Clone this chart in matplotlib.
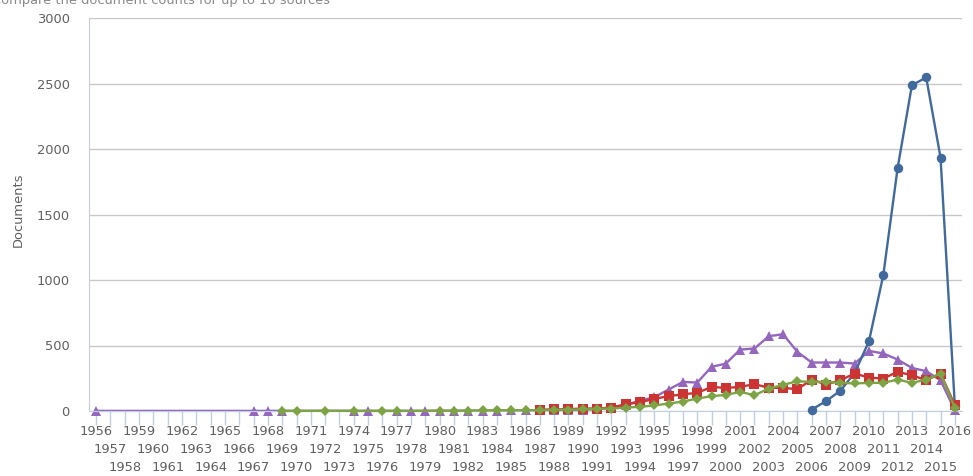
import matplotlib
matplotlib.use("Agg")
import matplotlib.pyplot as plt
from matplotlib.transforms import blended_transform_factory

plt.rcParams['font.family'] = ['DejaVu Sans']

years = list(range(1956, 2017))

# values per year (None = no point for that year)
blue_vals = {2006: 11, 2007: 75, 2008: 155, 2009: 290, 2010: 533, 2011: 1037,
             2012: 1853, 2013: 2487, 2014: 2546, 2015: 1935, 2016: 40}

red_vals = {1987: 10, 1988: 12, 1989: 14, 1990: 19, 1991: 19, 1992: 26, 1993: 52,
            1994: 67, 1995: 93, 1996: 113, 1997: 128, 1998: 138, 1999: 184,
            2000: 176, 2001: 184, 2002: 205, 2003: 177, 2004: 177, 2005: 166,
            2006: 240, 2007: 202, 2008: 235, 2009: 286, 2010: 255, 2011: 248,
            2012: 299, 2013: 273, 2014: 235, 2015: 286, 2016: 45}

green_vals = {1969: 1, 1970: 1, 1972: 2, 1974: 1, 1976: 1, 1977: 1, 1980: 2,
              1981: 2, 1982: 3, 1983: 4, 1984: 5, 1985: 5, 1986: 6, 1987: 7,
              1988: 9, 1989: 11, 1990: 12, 1991: 16, 1992: 19, 1993: 26,
              1994: 32, 1995: 42, 1996: 57, 1997: 72, 1998: 95, 1999: 113,
              2000: 123, 2001: 146, 2002: 121, 2003: 171, 2004: 200, 2005: 227,
              2006: 222, 2007: 222, 2008: 215, 2009: 210, 2010: 215, 2011: 215,
              2012: 240, 2013: 215, 2014: 240, 2015: 286, 2016: 25}

purple_vals = {1956: 1, 1967: 1, 1968: 1, 1969: 1, 1974: 1, 1975: 1, 1977: 1,
               1978: 1, 1979: 1, 1980: 2, 1981: 2, 1982: 2, 1983: 3, 1984: 3,
               1985: 4, 1986: 4, 1987: 5, 1988: 6, 1989: 8, 1990: 10, 1991: 15,
               1992: 25, 1993: 45, 1994: 80, 1995: 105, 1996: 164, 1997: 222,
               1998: 217, 1999: 337, 2000: 362, 2001: 469, 2002: 477, 2003: 571,
               2004: 586, 2005: 451, 2006: 370, 2007: 370, 2008: 370, 2009: 362,
               2010: 459, 2011: 439, 2012: 393, 2013: 329, 2014: 304, 2015: 235,
               2016: 5}

y_ticks = [0, 500, 1000, 1500, 2000, 2500, 3000]
y_label = "Documents"
title_text = "Compare the document counts for up to 10 sources"

W, H = 973, 476
fig = plt.figure(figsize=(W / 100, H / 100), dpi=100)
L, R, B, T = 89, 962, 411, 18
ax = fig.add_axes([L / W, 1 - B / H, (R - L) / W, (B - T) / H])

ax.set_xlim(-0.5, len(years) - 0.5)
ax.set_ylim(0, 3000)

series = [
    (purple_vals, '#9467bd', '^', 7.0, 2),
    (blue_vals, '#40699c', 'o', 6.8, 3),
    (red_vals, '#cc3333', 's', 6.5, 4),
    (green_vals, '#7da444', 'D', 5.0, 5),
]
for vals, col, mk, ms, z in series:
    xs = [years.index(y) for y in years if y in vals]
    ys = [vals[y] for y in years if y in vals]
    ax.plot(xs, ys, color=col, lw=1.7, marker=mk, markersize=ms,
            markeredgewidth=0, zorder=z, clip_on=False)

# grid
ax.set_yticks(y_ticks)
ax.yaxis.grid(True, color='#c8c8c8', lw=1)
ax.set_axisbelow(True)
for s in ['top', 'right']:
    ax.spines[s].set_visible(False)
ax.spines['left'].set_color('#c8ccd4')
ax.spines['bottom'].set_color('#c0d0e0')
ax.tick_params(axis='y', length=0, labelsize=9.4, labelcolor='#606060', pad=14)

ax.set_xticks(range(len(years)))
ax.set_xticklabels([''] * len(years))
ax.tick_params(axis='x', length=10, color='#c0d0e0', width=1, direction='out')

trans = blended_transform_factory(ax.transData, ax.transAxes)
row_y = [-0.0527, -0.0992, -0.145]
for i, yr in enumerate(years):
    ax.text(i, row_y[i % 3], str(yr), transform=trans, ha='center', va='center',
            fontsize=9.4, color='#606060')

fig.text(18 / W, 1 - 210 / H, y_label, rotation=90, ha='center', va='center',
         fontsize=9.4, color='#606060')

fig.text(-8 / W, 1 - 4 / H, title_text, ha='left', va='baseline',
         fontsize=9.4, color='#8a8a8a')

fig.savefig('out.png', dpi=100)
